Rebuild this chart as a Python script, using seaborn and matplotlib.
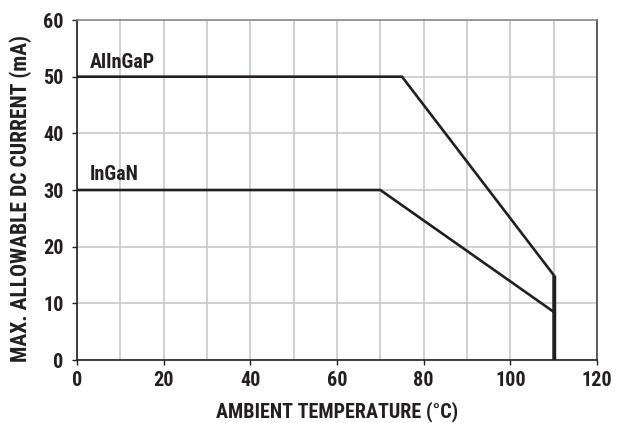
import matplotlib
matplotlib.use("Agg")
import matplotlib.pyplot as plt
import seaborn as sns
import pandas as pd
from matplotlib.ticker import MultipleLocator

sns.set_theme(style="white")
plt.rcParams['font.family'] = ['Roboto Condensed', 'Open Sans Condensed', 'DejaVu Sans']
plt.rcParams['font.stretch'] = 'condensed'
plt.rcParams['font.weight'] = 'bold'

# Data
alingap_temp = [0, 75, 110, 110]
alingap_curr = [50, 50, 15, 0]
ingan_temp = [0, 70, 110]
ingan_curr = [30, 30, 8.5]
series_names = ["AlInGaP", "InGaN"]
x_ticks = [0, 20, 40, 60, 80, 100, 120]
y_ticks = [0, 10, 20, 30, 40, 50, 60]

df = pd.concat([
    pd.DataFrame({"temp": alingap_temp, "curr": alingap_curr, "series": series_names[0]}),
    pd.DataFrame({"temp": ingan_temp, "curr": ingan_curr, "series": series_names[1]}),
])

INK = "#231f20"
fig = plt.figure(figsize=(6.26, 4.23), dpi=100)
ax = fig.add_axes([0.123, 0.1489, 0.8307, 0.8038])

sns.lineplot(data=df, x="temp", y="curr", units="series", estimator=None, sort=False,
             color=INK, linewidth=1.9, ax=ax, legend=False)
ax.plot([110, 110], [15, 0], color=INK, linewidth=2.5, solid_capstyle="butt", zorder=3)

ax.set_xlim(0, 120)
ax.set_ylim(0, 60)
ax.set_xticks(x_ticks)
ax.set_xticklabels([str(v) for v in x_ticks], fontweight="bold", fontsize=14.5, color=INK)
ax.set_yticks(y_ticks)
ax.set_yticklabels([str(v) for v in y_ticks], fontweight="bold", fontsize=14.5, color=INK)
ax.xaxis.set_minor_locator(MultipleLocator(10))
ax.grid(True, which="both", axis="x", color="#c4c4c4", linewidth=1.1)
ax.grid(True, which="major", axis="y", color="#c4c4c4", linewidth=1.1)
ax.set_axisbelow(True)
ax.tick_params(axis="both", which="major", direction="out", length=3.6, width=1, color=INK,
               bottom=True, left=True)
ax.tick_params(axis="x", which="major", pad=4.5)
ax.tick_params(axis="y", which="major", pad=6)
ax.tick_params(axis="x", which="minor", length=0)

for s in ["left", "bottom"]:
    ax.spines[s].set_color(INK)
    ax.spines[s].set_linewidth(1.2)
ax.spines["top"].set_color("#8a8a8a")
ax.spines["top"].set_linewidth(1.2)
ax.spines["right"].set_color("#444444")
ax.spines["right"].set_linewidth(1.2)

ax.set_xlabel("AMBIENT TEMPERATURE (°C)", fontsize=14.5, fontweight="bold", color=INK, va="center")
ax.set_ylabel("MAX. ALLOWABLE DC CURRENT (mA)", fontsize=15.5, fontweight="bold", color=INK, va="center")
ax.xaxis.set_label_coords(0.5, -0.151)
ax.yaxis.set_label_coords(-0.109, 0.475)

ax.text(3, 51.5, series_names[0], fontsize=14.5, fontweight="bold", color=INK, ha="left", va="baseline")
ax.text(3, 31.8, series_names[1], fontsize=14.5, fontweight="bold", color=INK, ha="left", va="baseline")

fig.savefig("out.png", dpi=100)
